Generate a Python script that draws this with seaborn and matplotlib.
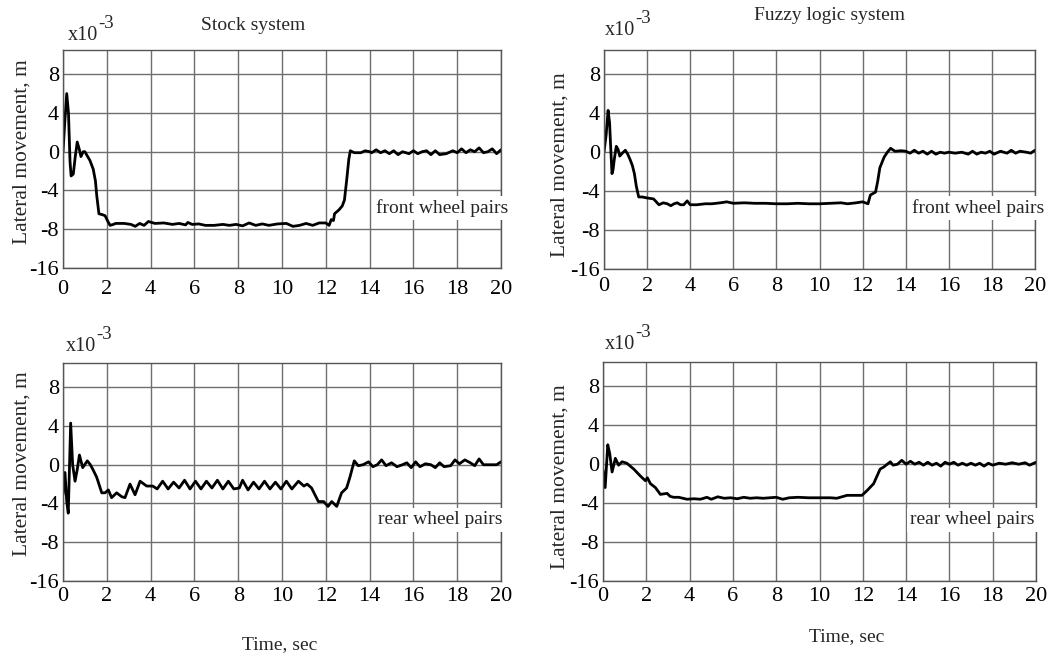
import numpy as np
import pandas as pd
import matplotlib
matplotlib.use("Agg")
import matplotlib.pyplot as plt
import seaborn as sns

# Datos (x10^-3 m)
t_stock_front = [0, 0.08, 0.17, 0.25, 0.32, 0.37, 0.47, 0.56, 0.65, 0.75, 0.82, 0.92, 1.0, 1.1, 1.23,
                 1.38, 1.48, 1.54, 1.64, 1.8, 1.92, 2.05, 2.15, 2.3, 2.4, 2.8, 3.1, 3.3, 3.5, 3.7, 3.9,
                 4.2, 4.6, 5.0, 5.3, 5.6, 5.7, 5.9, 6.2, 6.5, 6.9, 7.3, 7.6, 7.9, 8.2, 8.5, 8.8, 9.1,
                 9.4, 9.8, 10.2, 10.5, 10.8, 11.1, 11.4, 11.7, 12.0, 12.15, 12.25, 12.35, 12.4, 12.6,
                 12.75, 12.85, 12.95, 13.05, 13.12, 13.3, 13.6, 13.8, 14.0, 14.1, 14.3, 14.5, 14.7,
                 14.9, 15.1, 15.3, 15.5, 15.8, 16.0, 16.2, 16.4, 16.6, 16.8, 17.0, 17.2, 17.5, 17.8,
                 18.0, 18.2, 18.4, 18.6, 18.8, 19.0, 19.2, 19.4, 19.6, 19.8, 20.0]
y_stock_front = [0, 3.0, 6.0, 4.0, -1.0, -2.5, -2.3, -0.5, 1.0, 0.2, -0.5, 0.0, 0.0, -0.4, -0.9,
                 -1.8, -3.0, -4.5, -6.4, -6.5, -6.6, -7.2, -7.6, -7.5, -7.4, -7.4, -7.5, -7.7, -7.4,
                 -7.6, -7.2, -7.4, -7.35, -7.5, -7.4, -7.55, -7.3, -7.5, -7.45, -7.6, -7.6, -7.5,
                 -7.6, -7.5, -7.65, -7.35, -7.6, -7.45, -7.6, -7.45, -7.4, -7.7, -7.6, -7.4, -7.6,
                 -7.35, -7.35, -7.6, -7.0, -7.1, -6.4, -6.0, -5.6, -5.0, -3.0, -0.8, 0.1, -0.1, -0.1,
                 0.1, 0.0, -0.1, 0.2, -0.1, 0.1, -0.2, 0.1, -0.3, 0.0, -0.2, 0.1, -0.2, 0.0, 0.1, -0.3,
                 0.1, -0.3, -0.2, 0.1, -0.1, 0.3, -0.1, 0.2, 0.0, 0.4, -0.1, 0.0, 0.3, -0.2, 0.2]

t_fuzzy_front = [0, 0.1, 0.19, 0.26, 0.3, 0.37, 0.42, 0.48, 0.57, 0.65, 0.73, 0.85, 0.99, 1.1, 1.22,
                 1.32, 1.41, 1.5, 1.61, 1.77, 2.0, 2.3, 2.55, 2.75, 2.94, 3.1, 3.25, 3.4, 3.55, 3.7,
                 3.86, 4.0, 4.3, 4.7, 5.0, 5.4, 5.7, 6.0, 6.5, 7.0, 7.5, 8.0, 8.5, 9.0, 9.5, 10.0,
                 10.5, 11.0, 11.3, 11.7, 12.0, 12.25, 12.36, 12.6, 12.7, 12.8, 13.0, 13.15, 13.3,
                 13.5, 13.8, 14.0, 14.2, 14.4, 14.6, 14.8, 15.0, 15.2, 15.4, 15.6, 15.8, 16.0, 16.3,
                 16.6, 16.9, 17.1, 17.3, 17.5, 17.7, 17.9, 18.1, 18.4, 18.7, 18.9, 19.1, 19.3, 19.6,
                 19.8, 20.0]
y_fuzzy_front = [0, 1.8, 4.3, 3.0, 1.0, -2.2, -1.8, -0.7, 0.6, 0.3, -0.4, -0.1, 0.2, -0.2, -0.8,
                 -1.4, -2.2, -3.5, -4.6, -4.6, -4.7, -4.8, -5.4, -5.2, -5.3, -5.5, -5.3, -5.2, -5.4,
                 -5.4, -5.0, -5.4, -5.4, -5.3, -5.3, -5.2, -5.1, -5.25, -5.2, -5.25, -5.25, -5.3,
                 -5.3, -5.25, -5.3, -5.3, -5.25, -5.2, -5.3, -5.2, -5.1, -5.3, -4.4, -4.1, -3.0,
                 -1.6, -0.5, 0.0, 0.4, 0.1, 0.15, 0.1, -0.1, 0.2, -0.1, 0.1, -0.2, 0.1, -0.2, 0.0,
                 -0.1, 0.0, -0.1, 0.0, -0.2, 0.1, -0.2, 0.0, -0.1, 0.1, -0.2, 0.1, -0.1, 0.2, -0.1,
                 0.1, 0.0, -0.1, 0.2]

t_stock_rear = [0, 0.09, 0.17, 0.24, 0.35, 0.44, 0.55, 0.65, 0.75, 0.9, 1.11, 1.25, 1.39, 1.54, 1.77,
                1.92, 2.07, 2.22, 2.45, 2.68, 2.83, 3.06, 3.29, 3.52, 3.82, 4.1, 4.3, 4.55, 4.8, 5.05,
                5.3, 5.55, 5.8, 6.05, 6.3, 6.55, 6.8, 7.05, 7.3, 7.55, 7.8, 8.05, 8.2, 8.45, 8.7,
                8.95, 9.2, 9.45, 9.7, 9.95, 10.2, 10.45, 10.75, 11.0, 11.15, 11.35, 11.66, 11.9,
                12.1, 12.27, 12.5, 12.72, 12.95, 13.1, 13.3, 13.48, 13.7, 13.95, 14.15, 14.35, 14.55,
                14.75, 15.0, 15.25, 15.5, 15.7, 15.9, 16.1, 16.3, 16.55, 16.8, 17.0, 17.2, 17.4,
                17.7, 17.9, 18.1, 18.35, 18.6, 18.8, 19.0, 19.2, 19.5, 19.8, 20.0]
y_stock_rear = [-3.1, -0.8, -3.8, -5.0, 4.3, 0.0, -1.7, -0.5, 1.0, -0.3, 0.4, 0.0, -0.6, -1.3, -2.9,
                -2.9, -2.6, -3.4, -2.9, -3.3, -3.4, -2.0, -3.1, -1.7, -2.2, -2.2, -2.5, -1.7, -2.5,
                -1.8, -2.4, -1.6, -2.5, -1.7, -2.5, -1.7, -2.4, -1.6, -2.5, -1.7, -2.5, -2.4, -1.6,
                -2.6, -1.8, -2.5, -1.7, -2.5, -1.8, -2.5, -1.7, -2.5, -1.7, -2.2, -2.0, -2.4, -3.8,
                -3.8, -4.3, -3.8, -4.3, -2.9, -2.4, -1.3, 0.4, -0.1, 0.0, 0.3, -0.2, 0.0, 0.5, -0.1,
                0.2, -0.2, 0.0, 0.2, -0.3, 0.3, -0.2, 0.1, 0.0, -0.3, 0.2, -0.2, -0.1, 0.5, 0.1, 0.5,
                0.2, -0.1, 0.6, 0.0, 0.0, 0.0, 0.3]

t_fuzzy_rear = [0, 0.1, 0.22, 0.31, 0.42, 0.57, 0.72, 0.88, 1.1, 1.42, 1.72, 1.96, 2.05, 2.19, 2.42,
                2.65, 2.96, 3.1, 3.26, 3.5, 3.88, 4.2, 4.5, 4.8, 5.0, 5.3, 5.6, 5.9, 6.2, 6.5, 6.8,
                7.1, 7.4, 7.7, 8.0, 8.3, 8.6, 9.0, 9.5, 10.0, 10.5, 10.8, 11.27, 11.96, 12.2, 12.5,
                12.8, 12.96, 13.27, 13.4, 13.6, 13.8, 14.0, 14.2, 14.4, 14.6, 14.8, 15.0, 15.2, 15.4,
                15.6, 15.8, 16.0, 16.2, 16.4, 16.6, 16.8, 17.0, 17.2, 17.4, 17.6, 17.8, 18.0, 18.3,
                18.6, 18.9, 19.2, 19.5, 19.7, 20.0]
y_fuzzy_rear = [-0.6, -2.4, 2.0, 1.1, -0.8, 0.6, -0.1, 0.25, 0.1, -0.5, -1.2, -1.7, -1.4, -2.0, -2.4,
                -3.1, -3.0, -3.3, -3.4, -3.4, -3.6, -3.55, -3.6, -3.4, -3.6, -3.35, -3.5, -3.45,
                -3.55, -3.4, -3.5, -3.45, -3.5, -3.45, -3.4, -3.6, -3.45, -3.4, -3.45, -3.45, -3.45,
                -3.5, -3.2, -3.2, -2.7, -2.0, -0.5, -0.3, 0.25, -0.1, 0.0, 0.4, 0.0, 0.3, 0.0, 0.2,
                -0.1, 0.2, -0.1, 0.1, -0.2, 0.2, 0.0, 0.2, -0.1, 0.1, -0.1, 0.1, -0.1, 0.1, -0.2, 0.1,
                -0.1, 0.1, 0.0, 0.15, 0.0, 0.15, -0.1, 0.2]

x_ticks = [0, 2, 4, 6, 8, 10, 12, 14, 16, 18, 20]
y_ticks = [8, 4, 0, -4, -8, -16]

W, H = 1057, 657
SERIF = ['Liberation Serif', 'DejaVu Serif']

sns.set_style("white")
plt.rcParams['font.family'] = SERIF


def fwd(y):
    # el tramo -8..-16 ocupa solo una division en el original
    y = np.asarray(y, dtype=float)
    return np.where(y < -8, -8 + (y + 8) / 2, y)


def inv(v):
    v = np.asarray(v, dtype=float)
    return np.where(v < -8, -8 + (v + 8) * 2, v)


def px_box(left, top, right, bottom):
    return [left / W, 1 - bottom / H, (right - left) / W, (bottom - top) / H]


fig = plt.figure(figsize=(W / 100, H / 100), dpi=100)

# (t, y, caja en px, pad etiquetas x, texto, posicion texto, ylabel x, ylabel y, x10 offset)
paneles = [
    (t_stock_front, y_stock_front, (63, 50, 501, 268), 10, "front wheel pairs", (508, 208), 22, 152, (68, 40)),
    (t_fuzzy_front, y_fuzzy_front, (604, 50, 1035, 269), 7, "front wheel pairs", (1044, 208), 560, 165, (605, 35)),
    (t_stock_rear, y_stock_rear, (63, 363, 501, 581), 5, "rear wheel pairs", (502, 520), 22, 464, (66, 351)),
    (t_fuzzy_rear, y_fuzzy_rear, (603, 362, 1036, 581), 5, "rear wheel pairs", (1035, 520), 560, 477, (605, 349)),
]

for t, y, box, xpad, label, (lx, ly), ylx, yly, (ex, ey) in paneles:
    ax = fig.add_axes(px_box(*box))
    ax.set_yscale('function', functions=(fwd, inv))
    df = pd.DataFrame({'t': t, 'y': y})
    sns.lineplot(data=df, x='t', y='y', ax=ax, color='black', linewidth=2,
                 estimator=None, sort=False)
    ax.set_xlim(0, 20)
    ax.set_ylim(-16, 10.5)
    ax.set_xticks(x_ticks)
    ax.set_yticks(y_ticks)
    ax.set_yticklabels([str(v) for v in y_ticks])
    ax.set_xlabel('')
    ax.set_ylabel('')
    ax.grid(True, color='#6f6f6f', linewidth=1.0)
    ax.tick_params(axis='both', length=0, labelsize=16, colors='black')
    ax.tick_params(axis='x', pad=xpad - 1)
    ax.tick_params(axis='y', pad=3)
    for s in ax.spines.values():
        s.set_color('#555555')
        s.set_linewidth(1.0)
    fig.text(lx / W, 1 - ly / H, label, ha='right', va='center', fontsize=14,
             bbox=dict(facecolor='white', edgecolor='none', pad=2.5), zorder=5)
    fig.text(ylx / W, 1 - yly / H, 'Lateral movement, m', rotation=90,
             ha='center', va='center', fontsize=15.5)
    fig.text(ex / W, 1 - ey / H, 'x10', ha='left', va='baseline', fontsize=14.5)
    fig.text((ex + 30) / W, 1 - (ey - 12) / H, '-3', ha='left', va='baseline', fontsize=13.5)

fig.text(253 / W, 1 - 25 / H, 'Stock system', ha='center', va='center', fontsize=14)
fig.text(830 / W, 1 - 15 / H, 'Fuzzy logic system', ha='center', va='center', fontsize=14)
fig.text(280 / W, 1 - 645 / H, 'Time, sec', ha='center', va='center', fontsize=14)
fig.text(847 / W, 1 - 637 / H, 'Time, sec', ha='center', va='center', fontsize=14)

fig.savefig('out.png', dpi=100)
